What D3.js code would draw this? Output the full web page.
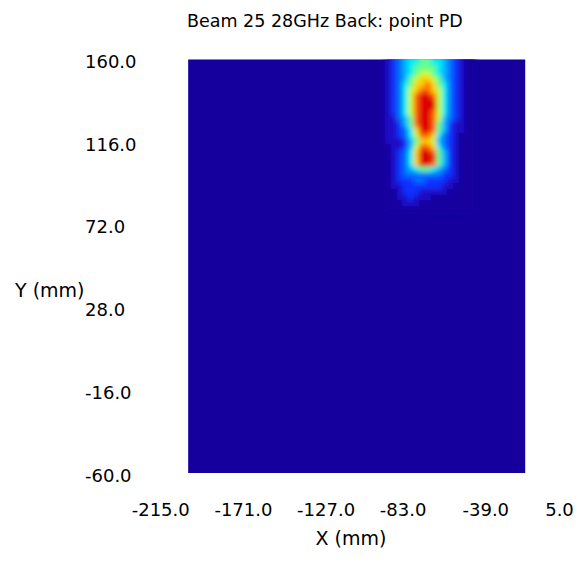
<!DOCTYPE html>
<html>
<head>
<meta charset="utf-8">
<script src="https://cdn.jsdelivr.net/npm/d3@7"></script>
<style>
  body { margin: 0; background: #fff; }
  text { font-family: "DejaVu Sans", Verdana, sans-serif; fill: #000; }
</style>
</head>
<body>
<script>
const width = 585;
const height = 563;

// axis tick labels (mm)
var xTicks = [-215, -171, -127, -83, -39, 5];
var yTicks = [160, 116, 72, 28, -16, -60];

// measured area (mm)
var areaX = [-185, -5.5];
var areaY = [-60, 160];

// hot region of the power density grid, level 0..10
// columns start at x = -80 mm, rows start at y = 160 mm, 3 mm steps
var gridX0 = -80;
var gridY0 = 160;
var gridStep = 3;
var gridRows = [
  [1,2,3,4,5,5,6,6,5,5,4,3,2,1,0,0],
  [1,2,3,4,5,6,6,6,6,5,4,3,2,1,0,0],
  [1,2,3,4,5,6,7,7,6,5,4,3,2,1,0,0],
  [1,2,3,4,6,7,8,8,7,6,4,3,2,1,0,0],
  [1,2,3,5,6,8,8,9,8,6,5,3,2,1,0,0],
  [1,2,3,5,7,8,9,9,8,7,5,3,2,1,0,0],
  [1,2,3,5,7,9,10,10,9,7,5,3,2,1,0,0],
  [1,2,3,5,7,9,10,10,10,7,5,3,2,1,0,0],
  [1,2,3,5,7,9,10,10,10,7,5,3,2,1,0,0],
  [1,2,3,5,7,9,10,10,9,7,5,3,2,1,0,0],
  [1,1,3,4,6,9,10,10,9,7,4,3,2,1,0,0],
  [1,1,2,4,6,9,10,10,9,6,4,2,1,1,0,0],
  [1,1,2,3,5,8,10,10,9,6,4,2,1,1,0,0],
  [1,1,2,3,5,7,9,9,8,5,3,2,1,0,0,0],
  [1,1,1,2,4,6,8,8,7,4,3,2,1,0,0,0],
  [0,1,1,2,4,7,9,9,8,5,3,2,1,0,0,0],
  [0,1,2,3,5,8,10,10,9,6,4,2,1,0,0,0],
  [0,1,2,3,5,8,10,10,10,6,4,2,1,0,0,0],
  [0,1,2,3,5,8,10,10,9,6,4,2,1,0,0,0],
  [0,1,2,3,4,5,6,6,5,4,3,2,1,0,0,0],
  [0,1,2,3,3,3,3,3,3,3,2,2,1,0,0,0],
  [0,1,2,2,2,3,3,2,2,2,2,1,1,0,0,0],
  [0,1,1,2,2,2,2,2,2,2,1,1,0,0,0,0],
  [0,0,1,2,2,2,1,1,1,1,1,0,0,0,0,0],
  [0,0,1,1,2,1,1,1,0,0,0,0,0,0,0,0],
  [0,0,0,1,1,1,0,0,0,0,0,0,0,0,0,0],
  [0,0,0,0,0,0,0,0,0,0,0,0,0,0,0,0]
];

var xScale = d3.scaleLinear().domain([-215, 5]).range([131.7, 545.2]);
var yScale = d3.scaleLinear().domain([160, -60]).range([59.3, 473]);

// jet-like palette, dark blue floor
var color = d3.scaleLinear()
    .domain([0, 1, 2, 3, 4, 5, 6, 7, 8, 9, 10])
    .range(["#15009e", "#1c10c8", "#0a30ff", "#0070ff", "#00b4ff", "#00eef0",
            "#60ff90", "#c8ff30", "#ffd000", "#ff6000", "#e00000"]);

var svg = d3.select("body").append("svg")
    .attr("width", width)
    .attr("height", height);

var defs = svg.append("defs");
defs.append("clipPath").attr("id", "plot-clip")
  .append("rect")
    .attr("x", xScale(areaX[0]))
    .attr("y", yScale(areaY[1]))
    .attr("width", xScale(areaX[1]) - xScale(areaX[0]))
    .attr("height", yScale(areaY[0]) - yScale(areaY[1]));
defs.append("filter").attr("id", "soft")
    .attr("x", "-20%").attr("y", "-20%").attr("width", "140%").attr("height", "140%")
  .append("feGaussianBlur").attr("stdDeviation", 2.8);

function drawMap() {
    var plot = svg.append("g").attr("clip-path", "url(#plot-clip)");

    plot.append("rect")
        .attr("x", xScale(areaX[0]))
        .attr("y", yScale(areaY[1]))
        .attr("width", xScale(areaX[1]) - xScale(areaX[0]))
        .attr("height", yScale(areaY[0]) - yScale(areaY[1]))
        .attr("fill", color(0));

    var cells = [];
    gridRows.forEach(function(row, j) {
        row.forEach(function(v, i) {
            cells.push({x: gridX0 + i * gridStep, y: gridY0 - j * gridStep, v: v});
        });
    });

    // top row is stretched upward so the blur keeps the clipped edge bright
    plot.append("g")
        .attr("filter", "url(#soft)")
      .selectAll(".cell").data(cells).enter().append("rect")
        .attr("class", "cell")
        .attr("x", function(d) { return xScale(d.x); })
        .attr("y", function(d) { return d.y === gridY0 ? yScale(d.y) - 8 : yScale(d.y); })
        .attr("width", xScale(gridX0 + gridStep) - xScale(gridX0) + 0.5)
        .attr("height", function(d) {
            var h = yScale(gridY0 - gridStep) - yScale(gridY0) + 0.5;
            return d.y === gridY0 ? h + 8 : h;
        })
        .attr("fill", function(d) { return color(d.v); });
}

function drawAxes() {
    svg.selectAll(".xlab").data(xTicks).enter().append("text")
        .attr("class", "xlab")
        .attr("x", function(d) { return xScale(d); })
        .attr("y", 516)
        .style("font-size", "18px")
        .text(function(d) { return d.toFixed(1); });

    svg.selectAll(".ylab").data(yTicks).enter().append("text")
        .attr("class", "ylab")
        .attr("x", 85)
        .attr("y", function(d) { return yScale(d) + 2.2; })
        .attr("dy", "0.36em")
        .style("font-size", "18px")
        .text(function(d) { return d.toFixed(1); });

    svg.append("text")
        .attr("x", 351)
        .attr("y", 545)
        .attr("text-anchor", "middle")
        .style("font-size", "19px")
        .text("X (mm)");

    svg.append("text")
        .attr("x", 15)
        .attr("y", 296.5)
        .style("font-size", "19px")
        .text("Y (mm)");

    svg.append("text")
        .attr("x", 187)
        .attr("y", 27)
        .style("font-size", "17.5px")
        .text("Beam 25 28GHz Back: point PD");
}

drawMap();
drawAxes();
</script>
</body>
</html>
